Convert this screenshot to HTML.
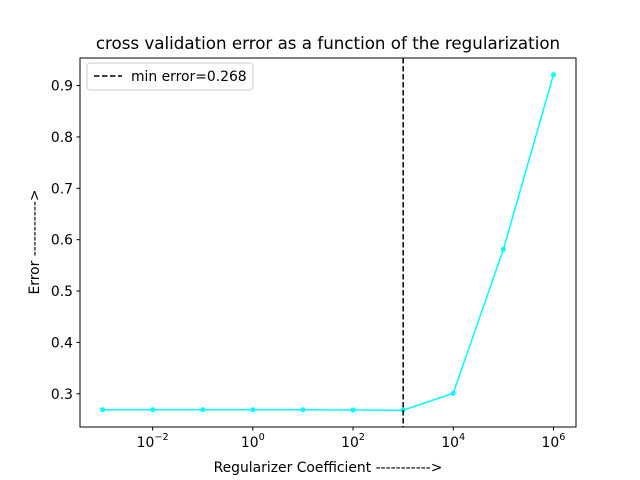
<!DOCTYPE html>
<html><head><meta charset="utf-8"><style>body{margin:0;background:#fff}svg{display:block;font-family:"DejaVu Sans","Liberation Sans",sans-serif}</style></head>
<body>
<svg id="chart" width="640" height="480" viewBox="0 0 640 480" xmlns="http://www.w3.org/2000/svg">
<rect width="640" height="480" fill="#fff"/>
<text x="328" y="49" font-size="16.7" text-anchor="middle">cross validation error as a function of the regularization</text>
<g id="plot"></g>
<rect x="80" y="58" width="496" height="369" fill="none" stroke="#000" stroke-width="1"/>
<text x="328" y="472" font-size="13.9" text-anchor="middle">Regularizer Coefficient -----------&gt;</text>
<text transform="translate(39,242) rotate(-90)" font-size="13.9" text-anchor="middle">Error -----------&gt;</text>
<g>
<rect x="87" y="63" width="166" height="27" rx="3" fill="#fff" stroke="#ccc"/>
<line x1="94" y1="76" x2="122" y2="76" stroke="#000" stroke-width="1.5" stroke-dasharray="5.5,2.5"/>
<text x="131" y="81" font-size="13.9">min error=0.268</text>
</g>
</svg>
<script>
const xExp=[-3,-2,-1,0,1,2,3,4,5,6];
const errors=[0.269,0.269,0.269,0.269,0.269,0.2685,0.268,0.301,0.581,0.921];
const xTickExp=[-2,0,2,4,6];
const yTicks=[0.3,0.4,0.5,0.6,0.7,0.8,0.9];
const minErr=0.268, minExp=3;
const X=e=>80+(e+3.45)/9.9*496;
const Y=v=>427-(v-0.2353)/(0.9537-0.2353)*369;
const ns="http://www.w3.org/2000/svg",g=document.getElementById('plot');
function mk(t,a){const el=document.createElementNS(ns,t);for(const k in a)el.setAttribute(k,a[k]);g.appendChild(el);return el;}
xTickExp.forEach(e=>{const x=X(e);
const t=mk('line',{x1:x,x2:x,y1:427,y2:430.5,stroke:'#000'});


const tx=mk('text',{x:x,y:447,'font-size':13.9,'text-anchor':'middle'});


tx.innerHTML='10<tspan dy="-7" font-size="9.7">'+(e<0?'\u2212'+(-e):e)+'</tspan>';});
yTicks.forEach(v=>{const y=Y(v);
const t=mk('line',{x1:76.5,x2:80,y1:y,y2:y,stroke:'#000'});


const tx=mk('text',{x:73,y:y+5,'font-size':13.9,'text-anchor':'end'});


tx.textContent=v.toFixed(1);});
const ln=mk('polyline',{points:xExp.map((e,i)=>X(e)+','+Y(errors[i])).join(' '),fill:'none',stroke:'#00ffff','stroke-width':1.5});


xExp.forEach((e,i)=>{const c=mk('circle',{cx:X(e),cy:Y(errors[i]),r:2.5,fill:'#00ffff'});

});
const vl=mk('line',{x1:X(minExp),x2:X(minExp),y1:58,y2:427,stroke:'#000','stroke-width':1.5,'stroke-dasharray':'5.5,2.5'});


</script>
</body></html>
